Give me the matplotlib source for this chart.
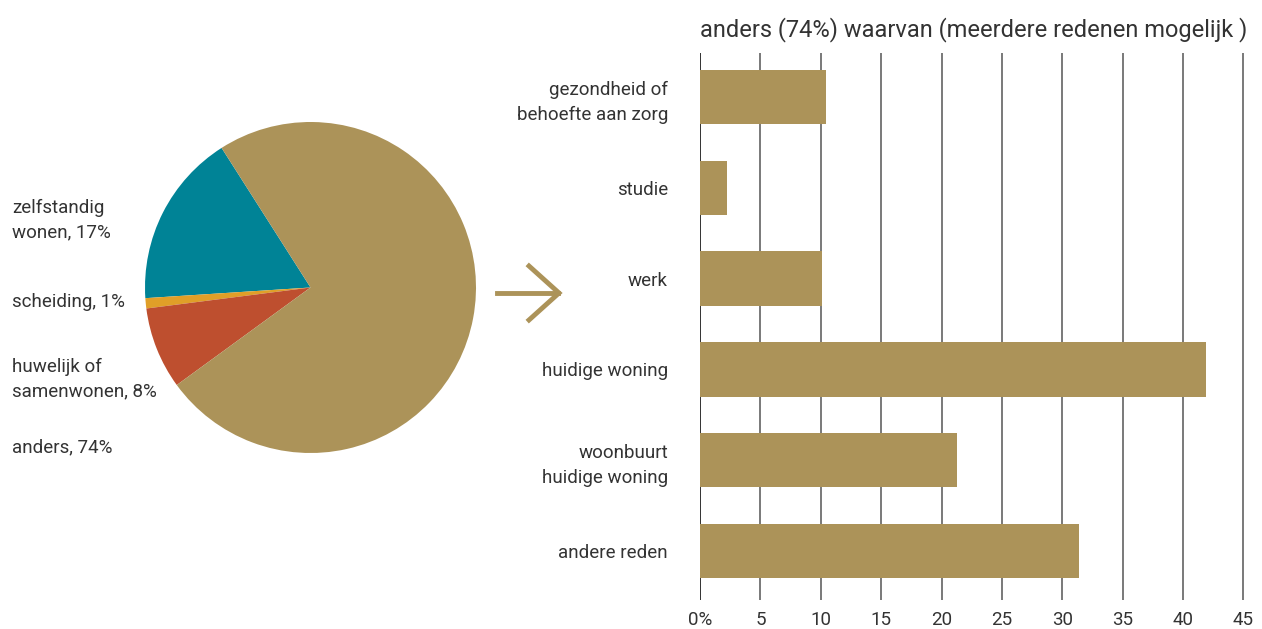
import matplotlib
matplotlib.use('Agg')
import matplotlib.pyplot as plt

# Verhuisredenen: verdeling en uitsplitsing van "anders"
pie_labels = ['zelfstandig\nwonen, 17%', 'scheiding, 1%',
              'huwelijk of\nsamenwonen, 8%', 'anders, 74%']
pie_values = [17, 1, 8, 74]
pie_colors = ['#008396', '#E09F28', '#BE4F2F', '#AC9359']

bar_labels = ['gezondheid of\nbehoefte aan zorg', 'studie', 'werk',
              'huidige woning', 'woonbuurt\nhuidige woning', 'andere reden']
bar_values = [10.4, 2.2, 10.1, 41.9, 21.3, 31.4]
x_ticks = [0, 5, 10, 15, 20, 25, 30, 35, 40, 45]
x_tick_labels = ['0%', '5', '10', '15', '20', '25', '30', '35', '40', '45']

GOLD = '#AC9359'
TEXT = '#333333'
plt.rcParams['font.family'] = ['Roboto', 'DejaVu Sans']

W, H = 1262, 629
fig = plt.figure(figsize=(W / 100, H / 100), dpi=100, facecolor='white')

# taartdiagram
ax_pie = fig.add_axes([145 / W, 1 - 453 / H, 331 / W, 331 / H])
ax_pie.pie(pie_values, colors=pie_colors, startangle=122.5,
           counterclock=True, wedgeprops=dict(linewidth=0))
ax_pie.set_xlim(-1, 1)
ax_pie.set_ylim(-1, 1)
ax_pie.set_aspect('equal')

label_y = [220, 302, 379, 447]
for lab, y in zip(pie_labels, label_y):
    fig.text(12 / W, 1 - y / H, lab, ha='left', va='center',
             fontsize=13.5, color=TEXT, linespacing=1.5)

# pijl tussen de twee grafieken
ay = 1 - 293 / H
fig.add_artist(plt.Line2D([497 / W, 558 / W], [ay, ay], color=GOLD,
                          linewidth=3.5, transform=fig.transFigure))
fig.add_artist(plt.Line2D([529 / W, 559 / W, 529 / W],
                          [1 - 266 / H, ay, 1 - 320 / H], color=GOLD,
                          linewidth=3.5, solid_joinstyle='miter',
                          transform=fig.transFigure))

# staafdiagram
ax = fig.add_axes([700 / W, 1 - 600 / H, 544 / W, 547 / H])
ypos = list(range(len(bar_values)))
ax.barh(ypos, bar_values, height=0.6, color=GOLD, zorder=3)
for t in x_ticks:
    ax.axvline(t, color='#222222' if t == 0 else '#555555',
               linewidth=1.3 if t == 0 else 1.1, zorder=1)
ax.set_xlim(0, 45.05)
ax.set_ylim(5.54, -0.485)
ax.set_xticks(x_ticks)
ax.set_xticklabels(x_tick_labels)
ax.set_yticks(ypos)
ax.set_yticklabels(bar_labels, ha='right', linespacing=1.5)
ax.tick_params(axis='both', length=0, labelsize=13.5, colors=TEXT)
ax.tick_params(axis='x', pad=8)
ax.tick_params(axis='y', pad=23)
for s in ax.spines.values():
    s.set_visible(False)

fig.text(700 / W, 1 - 30 / H, 'anders (74%) waarvan (meerdere redenen mogelijk )',
         ha='left', va='center', fontsize=17, color=TEXT)

fig.savefig('out.png', dpi=100, facecolor='white')
